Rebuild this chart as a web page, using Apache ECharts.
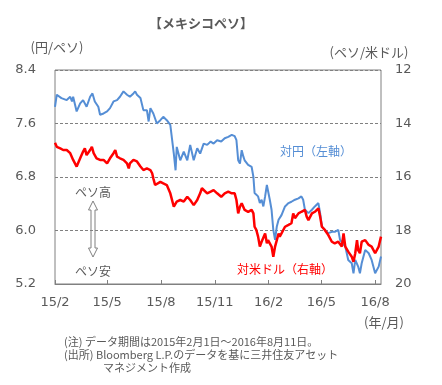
<!DOCTYPE html>
<html><head><meta charset="utf-8">
<script src="https://cdn.jsdelivr.net/npm/echarts@6/dist/echarts.min.js"></script>
<style>html,body{margin:0;padding:0;background:#fff}#c{width:442px;height:385px}</style>
</head><body><div id="c"></div>
<script>
// x-axis ticks
const tickDates = ['2015-02-01','2015-05-01','2015-08-01','2015-11-01','2016-02-01','2016-05-01','2016-08-01'];
const tickLabels = ['15/2','15/5','15/8','15/11','16/2','16/5','16/8'];
// Peso vs JPY (left axis)
const jpyDates = ['2015-02-01','2015-02-04','2015-02-12','2015-02-21','2015-02-27','2015-03-02','2015-03-04','2015-03-10','2015-03-16','2015-03-21','2015-03-27','2015-04-02','2015-04-06','2015-04-10','2015-04-16','2015-04-19','2015-04-25','2015-05-01','2015-05-06','2015-05-12','2015-05-18','2015-05-23','2015-05-29','2015-06-04','2015-06-09','2015-06-15','2015-06-18','2015-06-21','2015-06-27','2015-07-02','2015-07-08','2015-07-11','2015-07-14','2015-07-19','2015-07-25','2015-07-31','2015-08-05','2015-08-11','2015-08-17','2015-08-23','2015-08-26','2015-08-28','2015-09-03','2015-09-09','2015-09-15','2015-09-20','2015-09-26','2015-10-02','2015-10-07','2015-10-13','2015-10-19','2015-10-25','2015-10-30','2015-11-05','2015-11-12','2015-11-18','2015-11-24','2015-11-30','2015-12-05','2015-12-08','2015-12-11','2015-12-14','2015-12-17','2015-12-20','2015-12-22','2015-12-28','2016-01-03','2016-01-06','2016-01-08','2016-01-11','2016-01-14','2016-01-17','2016-01-20','2016-01-23','2016-01-26','2016-01-29','2016-01-31','2016-02-03','2016-02-06','2016-02-09','2016-02-12','2016-02-15','2016-02-18','2016-02-23','2016-02-29','2016-03-06','2016-03-11','2016-03-17','2016-03-23','2016-03-28','2016-03-31','2016-04-03','2016-04-09','2016-04-15','2016-04-20','2016-04-26','2016-04-29','2016-05-02','2016-05-07','2016-05-13','2016-05-19','2016-05-24','2016-05-30','2016-06-02','2016-06-05','2016-06-11','2016-06-16','2016-06-22','2016-06-25','2016-06-28','2016-07-03','2016-07-06','2016-07-09','2016-07-15','2016-07-21','2016-07-26','2016-08-01','2016-08-07','2016-08-11'];
const jpyValues = [7.85,8.03,7.98,7.95,8.00,7.93,8.00,7.78,7.90,7.95,7.85,8.00,8.05,7.93,7.85,7.73,7.75,7.78,7.83,7.93,7.95,8.00,8.08,8.03,8.00,8.05,8.08,8.03,7.98,7.80,7.80,7.63,7.83,7.75,7.60,7.65,7.70,7.65,7.58,7.15,6.90,7.25,7.05,7.18,7.05,7.28,7.05,7.23,7.15,7.30,7.28,7.33,7.30,7.35,7.33,7.38,7.40,7.43,7.41,7.35,7.05,7.00,7.20,7.10,7.05,6.98,6.95,6.80,6.56,6.56,6.51,6.41,6.46,6.36,6.51,6.68,6.66,6.46,6.31,6.01,5.86,6.06,6.16,6.23,6.36,6.41,6.43,6.46,6.48,6.51,6.46,6.31,6.26,6.31,6.36,6.41,6.26,6.06,6.01,5.96,5.98,5.98,6.01,5.86,5.86,5.76,5.56,5.51,5.36,5.56,5.46,5.36,5.51,5.71,5.66,5.56,5.36,5.46,5.61];
// Peso vs USD (right axis, inverted)
const usdDates = ['2015-02-01','2015-02-04','2015-02-10','2015-02-15','2015-02-21','2015-02-27','2015-03-02','2015-03-04','2015-03-10','2015-03-16','2015-03-21','2015-03-24','2015-03-27','2015-04-02','2015-04-05','2015-04-08','2015-04-13','2015-04-19','2015-04-25','2015-05-01','2015-05-06','2015-05-12','2015-05-15','2015-05-18','2015-05-23','2015-05-29','2015-06-04','2015-06-07','2015-06-09','2015-06-15','2015-06-18','2015-06-21','2015-06-27','2015-07-02','2015-07-08','2015-07-14','2015-07-17','2015-07-19','2015-07-22','2015-07-25','2015-07-31','2015-08-05','2015-08-11','2015-08-17','2015-08-23','2015-08-26','2015-08-28','2015-09-03','2015-09-09','2015-09-15','2015-09-20','2015-09-26','2015-10-02','2015-10-07','2015-10-10','2015-10-13','2015-10-19','2015-10-25','2015-10-30','2015-11-02','2015-11-05','2015-11-12','2015-11-18','2015-11-24','2015-11-30','2015-12-02','2015-12-05','2015-12-08','2015-12-11','2015-12-14','2015-12-17','2015-12-22','2015-12-28','2016-01-03','2016-01-06','2016-01-08','2016-01-11','2016-01-14','2016-01-17','2016-01-20','2016-01-23','2016-01-26','2016-01-29','2016-01-31','2016-02-06','2016-02-09','2016-02-12','2016-02-15','2016-02-18','2016-02-20','2016-02-23','2016-02-29','2016-03-06','2016-03-08','2016-03-11','2016-03-14','2016-03-17','2016-03-23','2016-03-28','2016-04-03','2016-04-06','2016-04-09','2016-04-15','2016-04-20','2016-04-26','2016-04-29','2016-05-02','2016-05-07','2016-05-13','2016-05-19','2016-05-24','2016-05-30','2016-06-05','2016-06-08','2016-06-11','2016-06-16','2016-06-22','2016-06-25','2016-06-28','2016-07-01','2016-07-03','2016-07-06','2016-07-09','2016-07-15','2016-07-21','2016-07-26','2016-08-01','2016-08-04','2016-08-07','2016-08-11'];
const usdValues = [14.72,14.87,14.93,14.99,14.99,15.11,15.05,15.36,15.61,15.30,15.05,14.93,15.18,14.99,14.87,15.11,15.30,15.36,15.36,15.49,15.30,15.11,14.99,15.24,15.30,15.36,15.49,15.68,15.49,15.36,15.30,15.42,15.61,15.74,15.68,15.74,15.86,16.05,16.30,16.24,16.18,16.24,16.30,16.61,17.11,17.17,16.92,16.86,16.92,16.74,16.86,17.05,16.86,16.61,16.42,16.49,16.61,16.55,16.49,16.42,16.61,16.74,16.61,16.55,16.61,16.55,16.61,16.86,17.36,17.11,16.98,17.23,17.30,17.23,17.36,17.86,17.98,18.23,18.60,18.42,18.36,18.11,18.48,18.36,18.60,18.98,18.60,18.36,18.11,18.23,18.11,17.86,17.79,17.86,17.73,17.36,17.54,17.36,17.30,17.23,17.48,17.61,17.36,17.30,17.17,17.48,17.86,17.98,18.17,18.42,18.48,18.42,18.60,18.11,18.60,18.79,18.98,19.17,18.85,18.36,18.73,18.85,18.42,18.36,18.54,18.60,18.85,18.92,18.60,18.23];

function toTs(s){const p=s.split('-').map(Number);return Date.UTC(p[0],p[1]-1,p[2]);}
const tickTs = tickDates.map(toTs);
const jpyData = jpyDates.map((d,i)=>[toTs(d), jpyValues[i]]);
const usdData = usdDates.map((d,i)=>[toTs(d), usdValues[i]]);

const JP = '"Noto Sans CJK JP", sans-serif';
const NUM = '"DejaVu Sans", sans-serif';
const GRAY = '#595959';
const BLUE = '#558ED5';

const chart = echarts.init(document.getElementById('c'), null, {renderer:'canvas'});
chart.setOption({
  animation:false,
  backgroundColor:'#fff',
  grid:{left:55, top:70, width:326, height:214, show:true, borderColor:'#808080', borderWidth:1},
  xAxis:{
    type:'value', min:toTs('2015-02-01'), max:toTs('2016-08-11'),
    axisLine:{show:true, lineStyle:{color:'#808080', width:1}},
    axisTick:{show:true, inside:true, length:4, customValues:tickTs, lineStyle:{color:'#808080'}},
    axisLabel:{customValues:tickTs, color:GRAY, fontSize:13, fontFamily:NUM, margin:12,
      formatter:function(v){for(let i=0;i<tickTs.length;i++){if(Math.abs(tickTs[i]-v)<86400000)return tickLabels[i];}return '';}},
    splitLine:{show:false}
  },
  yAxis:[
    {type:'value', min:5.2, max:8.4, interval:0.8, position:'left',
     axisLine:{show:false}, axisTick:{show:false},
     axisLabel:{formatter:v=>(+v).toFixed(1), color:GRAY, fontSize:13, fontFamily:NUM, margin:19},
     splitLine:{show:true, lineStyle:{color:'#808080', type:[3,2], width:1}}},
    {type:'value', min:12, max:20, interval:2, inverse:true, position:'right',
     axisLine:{show:false}, axisTick:{show:false},
     axisLabel:{color:GRAY, fontSize:13, fontFamily:NUM, margin:14},
     splitLine:{show:false}}
  ],
  series:[
    {name:'対円', type:'line', yAxisIndex:0, data:jpyData, showSymbol:false, symbol:'none',
     lineStyle:{color:BLUE, width:2}, itemStyle:{color:BLUE}, z:2},
    {name:'対米ドル', type:'line', yAxisIndex:1, data:usdData, showSymbol:false, symbol:'none',
     lineStyle:{color:'#FF0000', width:2.5}, itemStyle:{color:'#FF0000'}, z:3}
  ],
  graphic:[
    {type:'text', x:201, y:23, style:{text:'【メキシコペソ】', fill:GRAY, font:'bold 13px '+JP, textAlign:'center', textVerticalAlign:'middle', verticalAlign:'middle'}},
    {type:'text', x:57, y:47, style:{text:'(円/ペソ)', fill:GRAY, font:'13px '+JP, textAlign:'center', textVerticalAlign:'middle', verticalAlign:'middle'}},
    {type:'text', x:369, y:52, style:{text:'(ペソ/米ドル)', fill:GRAY, font:'13px '+JP, textAlign:'center', textVerticalAlign:'middle', verticalAlign:'middle'}},
    {type:'text', x:384, y:322, style:{text:'(年/月)', fill:GRAY, font:'13px '+JP, textAlign:'center', textVerticalAlign:'middle', verticalAlign:'middle'}},
    {type:'text', x:93, y:192, style:{text:'ペソ高', fill:GRAY, font:'12px '+JP, textAlign:'center', textVerticalAlign:'middle', verticalAlign:'middle'}},
    {type:'text', x:93, y:271, style:{text:'ペソ安', fill:GRAY, font:'12px '+JP, textAlign:'center', textVerticalAlign:'middle', verticalAlign:'middle'}},
    {type:'polygon', shape:{points:[[93,201],[97.5,210],[95,210],[95,248],[97.5,248],[93,257],[88.5,248],[91,248],[91,210],[88.5,210]]},
     style:{fill:'#fff', stroke:'#808080', lineWidth:1}},
    {type:'text', x:316, y:151, style:{text:'対円（左軸）', fill:BLUE, font:'12px '+JP, textAlign:'center', textVerticalAlign:'middle', verticalAlign:'middle'}},
    {type:'text', x:285, y:269, style:{text:'対米ドル（右軸）', fill:'#FF0000', font:'12px '+JP, textAlign:'center', textVerticalAlign:'middle', verticalAlign:'middle'}},
    {type:'text', x:64, y:342, style:{text:'(注) データ期間は2015年2月1日～2016年8月11日。', fill:GRAY, font:'11px '+JP, textAlign:'left', textVerticalAlign:'middle', verticalAlign:'middle'}},
    {type:'text', x:64, y:355, style:{text:'(出所) Bloomberg L.P.のデータを基に三井住友アセット', fill:GRAY, font:'11px '+JP, textAlign:'left', textVerticalAlign:'middle', verticalAlign:'middle'}},
    {type:'text', x:103, y:368, style:{text:'マネジメント作成', fill:GRAY, font:'11px '+JP, textAlign:'left', textVerticalAlign:'middle', verticalAlign:'middle'}}
  ]
});
</script></body></html>
